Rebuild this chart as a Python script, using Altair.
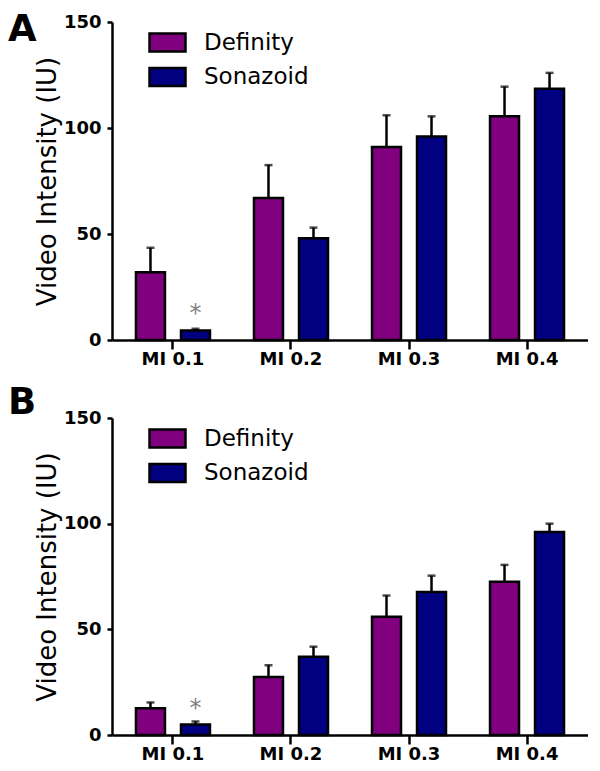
import altair as alt
import pandas as pd

cats = ["MI 0.1", "MI 0.2", "MI 0.3", "MI 0.4"]
agents = ["Definity", "Sonazoid"]
colors = ["#800080", "#000080"]

# Panel A
a_def_mean = [32, 67, 91, 105.5]
a_def_upper = [43.5, 82.5, 106, 119.5]
a_son_mean = [4.5, 48, 96, 118.5]
a_son_upper = [5.3, 53, 105.5, 126]
a_star = 12.5

# Panel B
b_def_mean = [12.7, 27.5, 56, 72.5]
b_def_upper = [15.4, 33, 66, 80.5]
b_son_mean = [5, 37, 67.7, 96]
b_son_upper = [6.4, 41.8, 75.4, 100]
b_star = 12.5

FONT = "DejaVu Sans"


def build_df(dm, du, sm, su):
    rows = []
    for i, c in enumerate(cats):
        rows.append({"cat": c, "agent": "Definity", "mean": dm[i], "upper": du[i]})
        rows.append({"cat": c, "agent": "Sonazoid", "mean": sm[i], "upper": su[i]})
    return pd.DataFrame(rows)


def panel(letter, df, star_y, H, letter_y):
    x = alt.X("cat:N", sort=cats,
              scale=alt.Scale(domain=cats, paddingInner=0, paddingOuter=0.0167),
              axis=alt.Axis(title=None, labelAngle=0, tickSize=9, labelPadding=1))
    xo = alt.XOffset("agent:N",
                     scale=alt.Scale(domain=agents, paddingInner=0.356, paddingOuter=0.489))
    y = alt.Y("mean:Q", scale=alt.Scale(domain=[0, 150], nice=False),
              axis=alt.Axis(values=[0, 50, 100, 150], title="Video Intensity (IU)",
                            tickSize=5, labelPadding=6, titlePadding=3))
    base = alt.Chart(df)
    bars = base.mark_bar(stroke="black", strokeWidth=2.5).encode(
        x=x, xOffset=xo, y=y,
        color=alt.Color("agent:N",
                        scale=alt.Scale(domain=agents, range=colors),
                        legend=alt.Legend(title=None, orient="none", legendX=36, legendY=1,
                                          symbolType="M-1,-0.5H1V0.5H-1Z", symbolSize=1296,
                                          symbolStrokeColor="black", symbolStrokeWidth=2.5,
                                          labelFont=FONT, labelFontSize=23, labelColor="black",
                                          labelOffset=17, rowPadding=0.5, padding=0)))
    rules = base.mark_rule(color="black", strokeWidth=2.5).encode(
        x=x, xOffset=xo, y="mean:Q", y2="upper:Q")
    caps = base.mark_tick(color="black", thickness=2.5, size=8).encode(
        x=x, xOffset=xo, y="upper:Q")
    star_df = pd.DataFrame({"cat": ["MI 0.1"], "agent": ["Sonazoid"], "mean": [star_y], "t": ["*"]})
    star = alt.Chart(star_df).mark_text(color="#808080", fontSize=24, font=FONT,
                                        baseline="middle").encode(
        x=x, xOffset=xo, y="mean:Q", text="t:N")
    lab_df = pd.DataFrame({"t": [letter]})
    lab = alt.Chart(lab_df).mark_text(fontSize=37, fontWeight="bold", font=FONT,
                                      align="left", baseline="top", color="black").encode(
        x=alt.value(-104), y=alt.value(letter_y), text="t:N")
    return alt.layer(bars, rules, caps, star, lab).properties(width=476, height=H)


pA = panel("A", build_df(a_def_mean, a_def_upper, a_son_mean, a_son_upper), a_star, 318, -10)
pB = panel("B", build_df(b_def_mean, b_def_upper, b_son_mean, b_son_upper), b_star, 317, -33)

chart = alt.vconcat(pA, pB, spacing=16).resolve_scale(color="independent").resolve_legend(
    color="independent").properties(padding={"left": 0, "top": 3, "right": 0, "bottom": 0}).configure_view(
    stroke=None).configure_axis(
    domainColor="black", domainWidth=2.5, tickColor="black", tickWidth=2.5,
    labelColor="black", labelFont=FONT, labelFontWeight="bold", labelFontSize=18,
    titleFont=FONT, titleFontSize=26, titleFontWeight="normal", titleColor="black", grid=False)

chart.save("out.html", embed_options={"renderer": "svg", "actions": False})
